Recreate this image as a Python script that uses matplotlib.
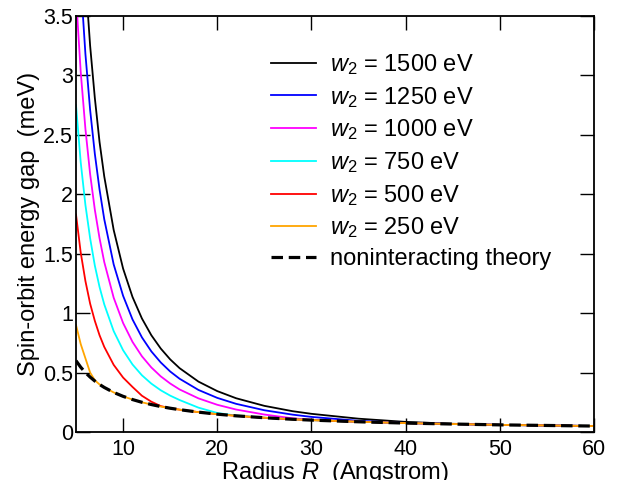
import matplotlib
matplotlib.use('Agg')
import matplotlib.pyplot as plt

plt.rcParams['font.family'] = ['Liberation Sans', 'DejaVu Sans']
plt.rcParams['mathtext.fontset'] = 'custom'
plt.rcParams['mathtext.rm'] = 'Liberation Sans'
plt.rcParams['mathtext.it'] = 'Liberation Sans:italic'

# radius R (Angstrom)
R = [5, 5.5, 6, 6.5, 7, 7.5, 8, 9, 10, 11, 12, 13, 14, 15, 16, 18, 20, 22, 25, 28,
     30, 35, 40, 45, 50, 55, 60]

# spin-orbit gap (meV) for each w2
gap_1500 = [5.50, 4.55, 3.82, 3.25, 2.81, 2.44, 2.15, 1.70, 1.375, 1.136, 0.955, 0.814,
            0.702, 0.611, 0.537, 0.424, 0.344, 0.284, 0.220, 0.175, 0.153, 0.112, 0.085,
            0.069, 0.060, 0.055, 0.050]
gap_1250 = [4.58, 3.79, 3.18, 2.71, 2.34, 2.04, 1.79, 1.41, 1.146, 0.947, 0.796, 0.678,
            0.585, 0.509, 0.448, 0.354, 0.287, 0.237, 0.183, 0.146, 0.127, 0.094, 0.076,
            0.067, 0.060, 0.055, 0.050]
gap_1000 = [3.67, 3.03, 2.55, 2.17, 1.87, 1.63, 1.43, 1.13, 0.917, 0.758, 0.637, 0.543,
            0.468, 0.408, 0.358, 0.283, 0.229, 0.189, 0.147, 0.115, 0.103, 0.086, 0.075,
            0.067, 0.060, 0.055, 0.050]
gap_750 = [2.75, 2.27, 1.91, 1.63, 1.40, 1.22, 1.074, 0.849, 0.688, 0.568, 0.477, 0.407,
           0.351, 0.306, 0.269, 0.205, 0.160, 0.138, 0.120, 0.107, 0.100, 0.086, 0.075,
           0.067, 0.060, 0.055, 0.050]
gap_500 = [1.83, 1.51, 1.27, 1.08, 0.935, 0.814, 0.716, 0.565, 0.458, 0.379, 0.305, 0.255,
           0.218, 0.200, 0.188, 0.167, 0.150, 0.136, 0.120, 0.107, 0.100, 0.086, 0.075,
           0.067, 0.060, 0.055, 0.050]
gap_250 = [0.90, 0.74, 0.62, 0.50, 0.435, 0.400, 0.375, 0.333, 0.300, 0.273, 0.250, 0.231,
           0.214, 0.200, 0.188, 0.167, 0.150, 0.136, 0.120, 0.107, 0.100, 0.086, 0.075,
           0.067, 0.060, 0.055, 0.050]
gap_nonint = [0.600, 0.545, 0.500, 0.462, 0.429, 0.400, 0.375, 0.333, 0.300, 0.273, 0.250,
              0.231, 0.214, 0.200, 0.188, 0.167, 0.150, 0.136, 0.120, 0.107, 0.100, 0.086,
              0.075, 0.067, 0.060, 0.055, 0.050]

series = [(gap_1500, 'black', '1500'), (gap_1250, 'blue', '1250'),
          (gap_1000, 'magenta', '1000'), (gap_750, 'cyan', '750'),
          (gap_500, 'red', '500'), (gap_250, 'orange', '250')]

fig = plt.figure(figsize=(6.18, 4.8), dpi=100)
ax = fig.add_axes([76/618, 1-432/480, (594-76)/618, (432-16)/480])

for y, c, w in series:
    ax.plot(R, y, color=c, lw=1.3, label='$w_2$ = ' + w + ' eV')
ax.plot(R, gap_nonint, color='black', lw=2.3, dashes=(3.6, 1.8),
        label='noninteracting theory')

ax.set_xlim(5, 60)
ax.set_ylim(0, 3.5)
ax.set_xticks([10, 20, 30, 40, 50, 60])
ax.set_yticks([0, 0.5, 1, 1.5, 2, 2.5, 3, 3.5])
ax.set_yticklabels(['0', '0.5', '1', '1.5', '2', '2.5', '3', '3.5'])
ax.tick_params(direction='in', length=10, width=1, top=True, right=True,
               labelsize=15.5)
ax.tick_params(axis='x', pad=5)
ax.tick_params(axis='y', pad=2)
for s in ax.spines.values():
    s.set_linewidth(1.3)

ax.set_xlabel('Radius $R$  (Angstrom)', fontsize=17, labelpad=0)
ax.set_ylabel('Spin-orbit energy gap  (meV)', fontsize=17, labelpad=2)

ax.legend(loc='upper left', bbox_to_anchor=(271/618, 1-52/480),
          bbox_transform=fig.transFigure, frameon=False, fontsize=17,
          handlelength=1.9, handletextpad=0.6, labelspacing=0.33,
          borderpad=0, borderaxespad=0)

fig.savefig('out.png', dpi=100)
